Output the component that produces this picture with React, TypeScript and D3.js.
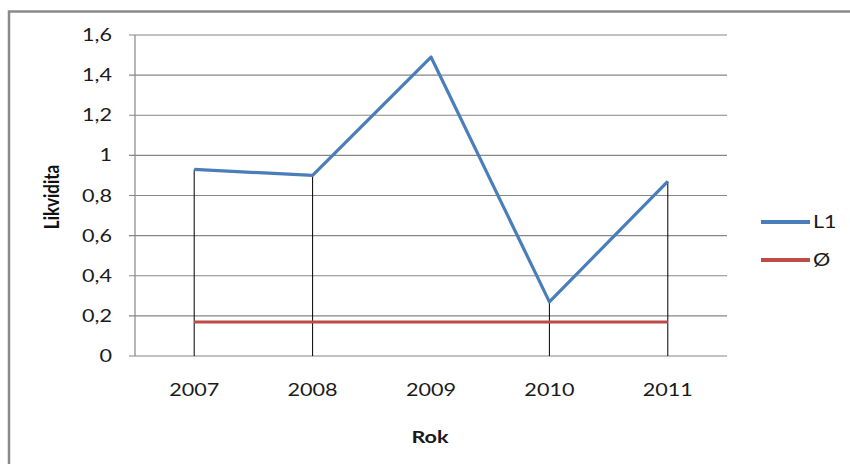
import React from "react";
import * as d3 from "d3";

const years = ["2007", "2008", "2009", "2010", "2011"];
const l1Values = [0.93, 0.9, 1.49, 0.27, 0.87];
const avgValues = [0.17, 0.17, 0.17, 0.17, 0.17];
const dropLineYears = ["2007", "2008", "2010", "2011"];
const yTicks = [0, 0.2, 0.4, 0.6, 0.8, 1, 1.2, 1.4, 1.6];
const seriesNames = ["L1", "Ø"];
const seriesColors = ["#4a7ebb", "#be4b48"];

const W = 850, H = 464;
const left = 135, right = 727, top = 35, bottom = 356;
const font = "Lato, 'Open Sans', sans-serif";
const SX = 1.27;

function T({ x, y, anchor = "start", size = 17, weight = "normal", children }: any) {
  return (
    <text
      transform={`translate(${x},${y}) scale(${SX},1)`}
      textAnchor={anchor}
      fontFamily={font}
      fontSize={size}
      fontWeight={weight}
      fill="#1a1a1a"
    >
      {children}
    </text>
  );
}

export default function App() {
  const x = d3.scaleBand<string>().domain(years).range([left, right]);
  const y = d3.scaleLinear().domain([0, 1.6]).range([bottom, top]);
  const cx = (d: string) => (x(d) as number) + x.bandwidth() / 2;
  const line = d3.line<number>().x((_, i) => cx(years[i])).y((v) => y(v));
  const fmt = (v: number) => String(+v.toFixed(1)).replace(".", ",");

  return (
    <svg width={W} height={H} style={{ position: "absolute", left: 0, top: 0, background: "#fff" }}>
      <rect x={0} y={0} width={W} height={H} fill="#fff" />
      <path d={`M9,${H} V11.5 H${W}`} fill="none" stroke="#8a8a8a" strokeWidth={2.5} />
      {yTicks.map((t) => (
        <g key={t}>
          <line x1={left - 6} x2={right} y1={y(t)} y2={y(t)} stroke="#868686" strokeWidth={1.2} />
          <T x={112} y={y(t) + 6} anchor="end">{fmt(t)}</T>
        </g>
      ))}
      <line x1={left} x2={left} y1={top} y2={bottom} stroke="#868686" strokeWidth={1.2} />
      {years.map((yr, i) => (
        <g key={yr}>
          {dropLineYears.includes(yr) && (
            <line x1={cx(yr)} x2={cx(yr)} y1={y(l1Values[i])} y2={bottom} stroke="#000" strokeWidth={1} />
          )}
          <T x={cx(yr)} y={396} anchor="middle">{yr}</T>
        </g>
      ))}
      <path d={line(avgValues) || ""} fill="none" stroke={seriesColors[1]} strokeWidth={3} />
      <path d={line(l1Values) || ""} fill="none" stroke={seriesColors[0]} strokeWidth={3.2} strokeLinejoin="round" />
      <T x={430} y={443} anchor="middle" size={17} weight="bold">Rok</T>
      <text transform="translate(59,197) rotate(-90) scale(1,1.2)" textAnchor="middle" fontFamily={font} fontSize={17} fontWeight="bold" fill="#111">Likvidita</text>
      {seriesNames.map((n, i) => (
        <g key={n}>
          <line x1={761} x2={810} y1={222 + i * 38} y2={222 + i * 38} stroke={seriesColors[i]} strokeWidth={4} />
          <T x={813} y={228 + i * 38}>{n}</T>
        </g>
      ))}
    </svg>
  );
}
